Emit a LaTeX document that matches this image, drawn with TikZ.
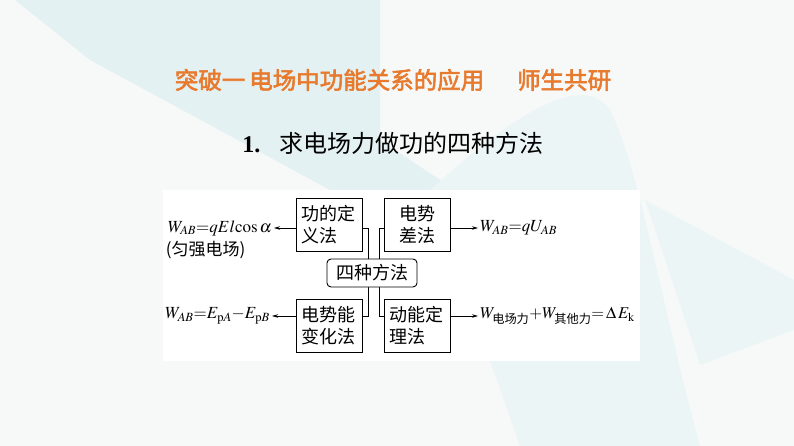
\documentclass[tikz,border=0pt]{standalone}
\usepackage{amsmath}
\usepackage{mathptmx}
\usepackage[no-math]{fontspec}
\setmainfont{Liberation Serif}
\newfontfamily\cjk{Noto Sans CJK SC}
\newfontfamily\cjkb[FakeBold=2.5]{Noto Sans CJK SC}
\usepackage{xcolor}
\usetikzlibrary{positioning,arrows.meta}

\definecolor{bgcol}{RGB}{247,248,248}
\definecolor{tealA}{RGB}{228,241,242}
\definecolor{tealB}{RGB}{236,245,245}
\definecolor{titleorange}{RGB}{232,122,46}

\begin{document}
\begin{tikzpicture}[x=1pt,y=-1pt,
  box/.style={draw, line width=0.9pt, minimum width=66pt, minimum height=53pt, text width=56pt, inner sep=0pt, align=left, font=\fontsize{18}{22.4}\cjk},
  hub/.style={draw, line width=0.9pt, rounded corners=4pt, fill=white, minimum width=90pt, minimum height=28pt, inner sep=0pt, font=\fontsize{18}{22}\cjk},
  link/.style={line width=0.8pt},
  arr/.style={-{Stealth[length=6pt,width=3.5pt]}, line width=0.8pt},
  lab/.style={inner sep=2pt, font=\fontsize{17}{19}\selectfont}]

\useasboundingbox (0,0) rectangle (794,446);

% background
\fill[bgcol] (0,0) rectangle (794,446);
\fill[tealA] (15,0) -- (380,0) -- (380,140) -- (470,200) -- (330,190) -- (90,60) -- cycle;
\fill[tealB] (430,190) .. controls (540,90) and (590,80) .. (610,110) .. controls (640,170) and (660,300) .. (700,446) -- (520,446) -- cycle;
\fill[tealB] (645,200) -- (794,280) -- (794,330) -- (700,365) -- cycle;
\fill[white] (163,190) rectangle (640,361);

% headings
\node[font=\fontsize{23.5}{26}\cjkb, text=titleorange] (title) at (393,80) {突破一\,电场中功能关系的应用\hspace{1.4em}师生共研};
\node[font=\fontsize{24}{26}\cjk] (head) at (393,143) {{\rmfamily\bfseries 1.}\hspace{0.8em}求电场力做功的四种方法};

% the four methods
\node[box] (def) at (329,224.5) {功的定\\义法};
\node[box, align=center] (diff) at (417.7,224.5) {电势\\差法};
\node[box] (chg) at (329,325.5) {电势能\\变化法};
\node[box] (kin) at (417.7,325.5) {动能定\\理法};

\draw[link] ([yshift=-3.5pt]def.east) -- ++(5.5,0) |- ([yshift=9.5pt]chg.east);
\draw[link] ([yshift=-3.5pt]diff.west) -- ++(-5,0) |- ([yshift=9.5pt]kin.west);

\node[hub] (hub) at (372,273) {四种方法};

% results
\node[lab, anchor=east] (wdef) at (274,228) {$W_{AB}{=}qEl{\cos}\,\alpha$};
\node[lab, anchor=north west, font=\fontsize{17}{19}\cjk] (uni) at ([xshift=-2pt,yshift=-1pt]wdef.south west) {(匀强电场)};
\node[lab, anchor=east] (wchg) at (272,316) {$W_{AB}{=}E_{\mathrm{p}A}{-}E_{\mathrm{p}B}$};
\node[lab, anchor=west] (wdiff) at (478,228) {$W_{AB}{=}qU_{AB}$};
\node[lab, anchor=west, font=\fontsize{16.5}{19}\selectfont] (wkin) at (478,316) {$W_{\text{\cjk 电场力}}{+}W_{\text{\cjk 其他力}}{=}\,\Delta\,E_{\mathrm{k}}$};

\draw[arr] ([yshift=-3.5pt]def.west) -- (wdef);
\draw[arr] ([yshift=9.5pt]chg.west) -- (wchg);
\draw[arr] ([yshift=-3.5pt]diff.east) -- (wdiff);
\draw[arr] ([yshift=9.5pt]kin.east) -- (wkin);

\end{tikzpicture}
\end{document}
